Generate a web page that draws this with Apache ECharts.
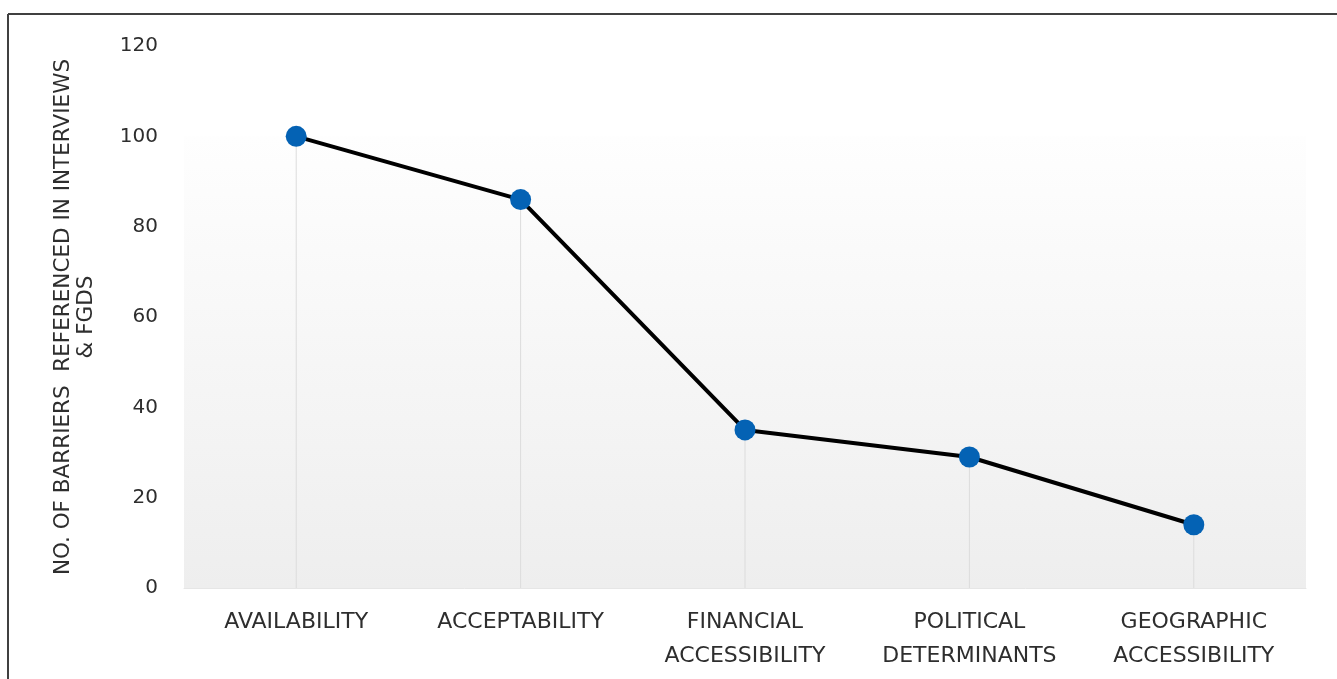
<!DOCTYPE html>
<html>
<head>
<meta charset="utf-8">
<script src="https://cdn.jsdelivr.net/npm/echarts@6/dist/echarts.min.js"></script>
<style>
html,body{margin:0;padding:0;background:#fff;}
#c{width:1337px;height:679px;}
</style>
</head>
<body>
<div id="c"></div>
<script>
const categories = ['AVAILABILITY', 'ACCEPTABILITY', 'FINANCIAL\nACCESSIBILITY', 'POLITICAL\nDETERMINANTS', 'GEOGRAPHIC\nACCESSIBILITY'];
const barrierCounts = [100, 86, 35, 29, 14];
const yTicks = { min: 0, max: 120, interval: 20 };
const yTitle = 'NO. OF BARRIERS  REFERENCED IN INTERVIEWS\n& FGDS';

const chart = echarts.init(document.getElementById('c'));
const font = '"DejaVu Sans", sans-serif';
chart.setOption({
  backgroundColor: '#fff',
  animation: false,
  graphic: [
    { type: 'line', shape: { x1: 8, y1: 14, x2: 1337, y2: 14 }, style: { stroke: '#404040', lineWidth: 2 } },
    { type: 'line', shape: { x1: 8, y1: 14, x2: 8, y2: 679 }, style: { stroke: '#404040', lineWidth: 2 } }
  ],
  grid: { left: 184, right: 31, top: 46, bottom: 91, containLabel: false },
  xAxis: {
    type: 'category',
    data: categories,
    boundaryGap: true,
    axisLine: { show: true, lineStyle: { color: '#e6e6e6', width: 1 } },
    axisTick: { show: false },
    axisLabel: { interval: 0, hideOverlap: false, color: '#2e2e2e', fontSize: 22, fontFamily: font, lineHeight: 34, margin: 17 }
  },
  yAxis: {
    type: 'value',
    min: yTicks.min, max: yTicks.max, interval: yTicks.interval,
    splitLine: { show: false },
    axisLine: { show: false },
    axisTick: { show: false },
    axisLabel: { color: '#2e2e2e', fontSize: 20, fontFamily: font, margin: 26 },
    name: yTitle,
    nameLocation: 'middle',
    nameGap: 86,
    nameTextStyle: { color: '#2e2e2e', fontSize: 21.5, fontFamily: font, lineHeight: 23 }
  },
  series: [
    {
      type: 'bar',
      data: barrierCounts,
      barWidth: 1,
      itemStyle: { color: '#dcdcdc' },
      silent: true,
      z: 1,
      markArea: {
        silent: true,
        itemStyle: {
          color: new echarts.graphic.LinearGradient(0, 0, 0, 1, [
            { offset: 0, color: '#fefefe' },
            { offset: 1, color: '#eeeeee' }
          ])
        },
        data: [[{ yAxis: 0, x: 184 }, { yAxis: 100, x: 1306 }]]
      }
    },
    {
      type: 'line',
      data: barrierCounts,
      symbol: 'circle',
      symbolSize: 21,
      lineStyle: { color: '#000', width: 4 },
      itemStyle: { color: '#0462B4' },
      z: 5
    }
  ]
});
</script>
</body>
</html>
